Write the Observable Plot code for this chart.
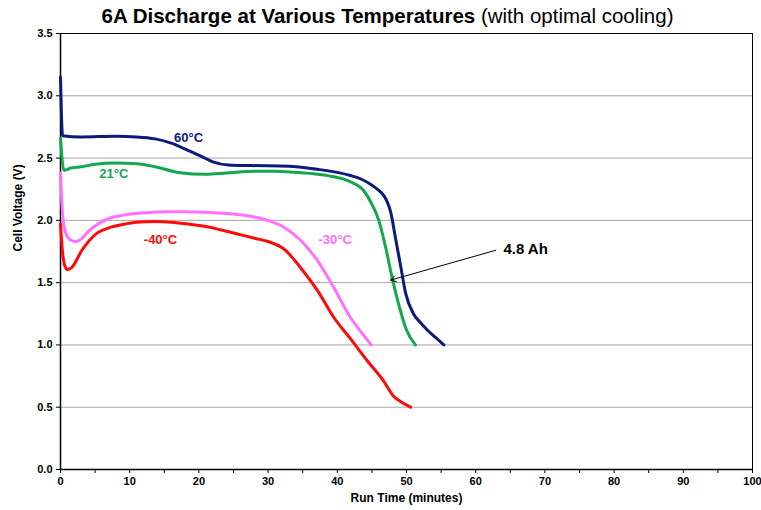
<!DOCTYPE html>
<html>
<head>
<meta charset="utf-8">
<script src="https://cdn.jsdelivr.net/npm/d3@7"></script>
<script src="https://cdn.jsdelivr.net/npm/@observablehq/plot@0.6"></script>
<style>
  html, body { margin: 0; padding: 0; background: #fff; }
  #wrap { position: relative; width: 761px; height: 510px; font-family: "Liberation Sans", Arial, sans-serif; }
  #title { position: absolute; left: 0; top: 4px; width: 775px; text-align: center; font-size: 20.5px; color: #000; white-space: nowrap; }
  #title b { font-weight: bold; }
</style>
</head>
<body>
<div id="wrap">
  <div id="title"><b>6A Discharge at Various Temperatures</b> (with optimal cooling)</div>
</div>
<script>
// Series: run time (minutes) and cell voltage (V)
const t60 = [0, 0.3, 3, 8, 11, 13.7, 16, 18.5, 20.5, 22, 24.3, 27.5, 33, 37.1, 40, 41.9, 43.5, 44.8, 46, 46.7, 47.2, 47.7, 48.4, 49.1, 49.9, 51, 52, 53, 54.2, 55.4];
const v60 = [3.15, 2.68, 2.67, 2.675, 2.67, 2.654, 2.62, 2.56, 2.51, 2.47, 2.445, 2.44, 2.435, 2.41, 2.385, 2.36, 2.33, 2.29, 2.24, 2.2, 2.15, 2.07, 1.86, 1.65, 1.41, 1.25, 1.18, 1.12, 1.06, 1.0];

const t21 = [0, 0.5, 1.5, 3, 5, 8, 11, 13.7, 17, 21, 24, 28, 31, 34, 37.1, 39.5, 41.9, 43.8, 45, 46, 47, 48, 49, 50, 51.3];
const v21 = [2.66, 2.40, 2.42, 2.43, 2.45, 2.46, 2.455, 2.43, 2.385, 2.37, 2.38, 2.395, 2.395, 2.385, 2.37, 2.35, 2.31, 2.24, 2.13, 2.0, 1.78, 1.52, 1.30, 1.12, 1.0];

const tm30 = [0, 0.3, 0.8, 1.5, 2.2, 3.2, 4, 5, 6, 7, 8.9, 12, 15.2, 18, 21, 25, 28.2, 30.5, 32.3, 34.7, 37.1, 39.5, 41.9, 43.5, 44.9];
const vm30 = [2.38, 2.05, 1.89, 1.84, 1.83, 1.86, 1.91, 1.955, 1.99, 2.015, 2.04, 2.06, 2.07, 2.07, 2.065, 2.05, 2.025, 1.99, 1.945, 1.84, 1.68, 1.46, 1.22, 1.10, 1.0];

const tm40 = [0, 0.3, 0.6, 1.0, 1.6, 3.1, 5.1, 7, 8.9, 11, 13.7, 16, 18.5, 21, 23.4, 26, 28.2, 30, 32.3, 34.7, 37.1, 39.5, 41.9, 44.3, 46.7, 48.1, 49.3, 50.6];
const vm40 = [1.97, 1.74, 1.64, 1.605, 1.62, 1.76, 1.89, 1.94, 1.966, 1.985, 1.99, 1.985, 1.97, 1.95, 1.92, 1.885, 1.855, 1.83, 1.77, 1.62, 1.44, 1.22, 1.05, 0.875, 0.71, 0.59, 0.54, 0.50];

const seriesNames = ["60°C", "21°C", "-30°C", "-40°C"];
const seriesColors = ["#0c1a7c", "#12a84f", "#ff70ff", "#ff0a0a"];

// Series labels (position in data units)
const labelX = [18.5, 7.7, 39.7, 14.45];
const labelY = [2.665, 2.37, 1.845, 1.845];

// Annotation
const noteText = ["4.8 Ah"];
const noteX = [64.0];
const noteY = [1.77];
const arrowFrom = [{x: 62.9, y: 1.76}];
const arrowTo = [{x: 47.7, y: 1.52}];

// Ticks
const xTicks = d3.range(0, 101, 5);
const yTicks = [0, 0.5, 1.0, 1.5, 2.0, 2.5, 3.0, 3.5];
const gridTicks = [0.5, 1.0, 1.5, 2.0, 2.5, 3.0];

const allT = [t60, t21, tm30, tm40];
const allV = [v60, v21, vm30, vm40];
const rows = [];
allT.forEach((ts, i) => ts.forEach((t, j) => rows.push({series: seriesNames[i], t, v: allV[i][j]})));
const labels = seriesNames.map((s, i) => ({series: s, x: labelX[i], y: labelY[i]}));

const font = "Liberation Sans, Arial, sans-serif";

const chart = Plot.plot({
  width: 761,
  height: 510,
  marginTop: 33,
  marginLeft: 60,
  marginRight: 9,
  marginBottom: 41,
  style: {fontFamily: font, fontSize: "11px", fontWeight: "bold", background: "white", color: "black", overflow: "visible"},
  x: {domain: [0, 100]},
  y: {domain: [0, 3.5]},
  color: {domain: seriesNames, range: seriesColors},
  marks: [
    Plot.gridY(gridTicks, {stroke: "#a6a6a6", strokeOpacity: 1, strokeWidth: 1}),
    Plot.frame({stroke: "black", strokeWidth: 1}),
    Plot.axisX({ticks: xTicks, tickSize: 4, tickFormat: d => d % 10 === 0 ? String(d) : "", label: null, tickPadding: 4, fontWeight: "bold"}),
    Plot.axisY({ticks: yTicks, tickSize: 4, tickFormat: d => d.toFixed(1), label: null, tickPadding: 4, fontWeight: "bold"}),
    Plot.text(["Run Time (minutes)"], {frameAnchor: "bottom", dy: 32, fontSize: 12, fontWeight: "bold", fill: "black"}),
    Plot.text(["Cell Voltage (V)"], {frameAnchor: "left", dx: -42, rotate: -90, fontSize: 12, fontWeight: "bold", fill: "black"}),
    Plot.ruleY([0], {stroke: "black", strokeWidth: 1.5}),
    Plot.ruleX([0], {stroke: "black", strokeWidth: 1.5}),
    Plot.line(rows, {x: "t", y: "v", z: "series", stroke: "series", strokeWidth: 3, curve: "monotone-x"}),
    Plot.text(labels, {x: "x", y: "y", text: "series", fill: "series", fontSize: 13, fontWeight: "bold"}),
    Plot.arrow(arrowFrom.map((a, i) => ({...a, x2: arrowTo[i].x, y2: arrowTo[i].y})), {x1: "x", y1: "y", x2: "x2", y2: "y2", stroke: "black", strokeWidth: 1, headLength: 9, bend: 0}),
    Plot.text(noteText.map((s, i) => ({s, x: noteX[i], y: noteY[i]})), {x: "x", y: "y", text: "s", textAnchor: "start", fontSize: 15, fontWeight: "bold", fill: "black"})
  ]
});
document.getElementById("wrap").prepend(chart);
</script>
</body>
</html>
